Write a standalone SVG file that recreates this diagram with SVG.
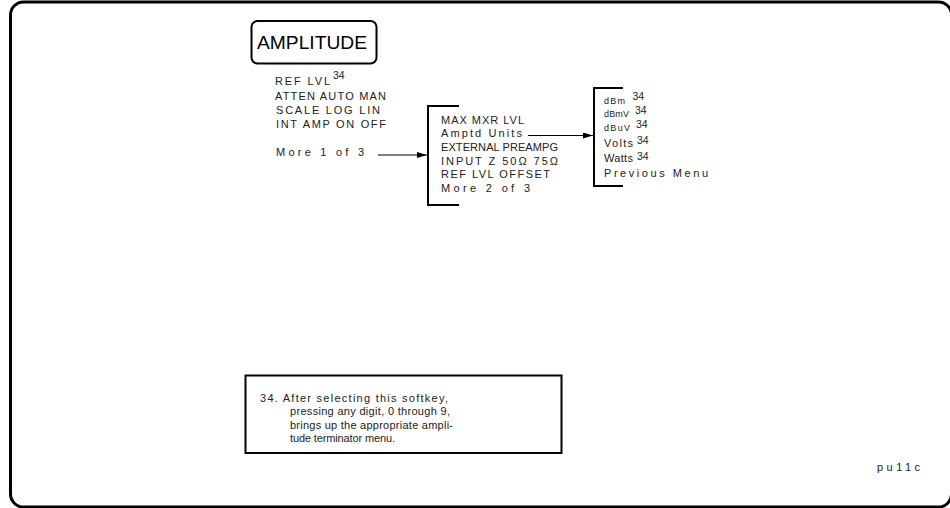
<svg xmlns="http://www.w3.org/2000/svg" width="950" height="508" viewBox="0 0 950 508">
<style>
.t{font-family:"Liberation Sans",Arial,sans-serif;font-size:11px;fill:#222}
.s{font-family:"Liberation Sans",Arial,sans-serif;font-size:9px;fill:#222}
.sp{font-family:"Liberation Sans",Arial,sans-serif;font-size:10.5px;fill:#222}
.big{font-family:"Liberation Sans",Arial,sans-serif;font-size:19px;fill:#000}
.br{fill:none;stroke:#000;stroke-width:2}
.ln{fill:none;stroke:#000;stroke-width:1}
</style>
<defs>
<marker id="ah" markerWidth="10" markerHeight="6" refX="10" refY="3" orient="auto" markerUnits="userSpaceOnUse">
<path d="M0,0 L10,3 L0,6 Z" fill="#000"/>
</marker>
</defs>
<rect x="10.5" y="2" width="941" height="505" rx="13" fill="none" stroke="#000" stroke-width="3"/>
<g id="amplitude">
<rect x="251.5" y="21" width="125" height="42.5" rx="6" fill="none" stroke="#000" stroke-width="2"/>
<text class="big" x="257" y="48.5" textLength="110" lengthAdjust="spacingAndGlyphs">AMPLITUDE</text>
</g>
<g id="menu1">
<text class="t" x="275" y="85" textLength="55" lengthAdjust="spacing">REF LVL</text>
<text class="sp" x="333" y="79">34</text>
<text class="t" x="275" y="99.5" textLength="111" lengthAdjust="spacing">ATTEN AUTO MAN</text>
<text class="t" x="276" y="114" textLength="104" lengthAdjust="spacing">SCALE LOG LIN</text>
<text class="t" x="276" y="128" textLength="110" lengthAdjust="spacing">INT AMP ON OFF</text>
<text class="t" x="276" y="156" textLength="88" lengthAdjust="spacing">More 1 of 3</text>
</g>
<g id="menu2">
<path class="br" d="M459,106 H428 V205 H459"/>
<text class="t" x="441" y="123.5" textLength="83" lengthAdjust="spacing">MAX MXR LVL</text>
<text class="t" x="441" y="137" textLength="81" lengthAdjust="spacing">Amptd Units</text>
<text class="t" x="441" y="151" textLength="117" lengthAdjust="spacing">EXTERNAL PREAMPG</text>
<text class="t" x="441" y="164.5" textLength="117" lengthAdjust="spacing">INPUT Z 50Ω 75Ω</text>
<text class="t" x="441" y="178" textLength="109" lengthAdjust="spacing">REF LVL OFFSET</text>
<text class="t" x="441" y="192" textLength="89" lengthAdjust="spacing">More 2 of 3</text>
</g>
<g id="menu3">
<path class="br" d="M623,88 H594 V186 H623"/>
<text class="s" x="604" y="104.3" textLength="21" lengthAdjust="spacing">dBm</text>
<text class="sp" x="632.5" y="100">34</text>
<text class="s" x="604" y="117.3" textLength="25" lengthAdjust="spacing">dBmV</text>
<text class="sp" x="635" y="114">34</text>
<text class="s" x="604" y="130.7" textLength="26" lengthAdjust="spacing">dBuV</text>
<text class="sp" x="636" y="128">34</text>
<text class="t" x="604" y="146.5" textLength="29" lengthAdjust="spacing">Volts</text>
<text class="sp" x="637" y="144">34</text>
<text class="t" x="604" y="161.5" textLength="29" lengthAdjust="spacing">Watts</text>
<text class="sp" x="637" y="159.5">34</text>
<text class="t" x="604" y="176.5" textLength="104" lengthAdjust="spacing">Previous Menu</text>
</g>
<g id="connectors">
<line class="ln" x1="378" y1="155" x2="427" y2="155" marker-end="url(#ah)"/>
<line class="ln" x1="528" y1="135.5" x2="593" y2="135.5" marker-end="url(#ah)"/>
</g>
<g id="footnote">
<rect x="245.5" y="375.5" width="316" height="77.5" fill="none" stroke="#000" stroke-width="2"/>
<text class="t" x="260" y="401.5" textLength="188" lengthAdjust="spacing">34. After selecting this softkey,</text>
<text class="t" x="290" y="415" textLength="160" lengthAdjust="spacing">pressing any digit, 0 through 9,</text>
<text class="t" x="290" y="428.5" textLength="163" lengthAdjust="spacing">brings up the appropriate ampli-</text>
<text class="t" x="290" y="442" textLength="105" lengthAdjust="spacing">tude terminator menu.</text>
</g>
<text class="t" x="877" y="471" textLength="43" lengthAdjust="spacing">pu11c</text>
</svg>
